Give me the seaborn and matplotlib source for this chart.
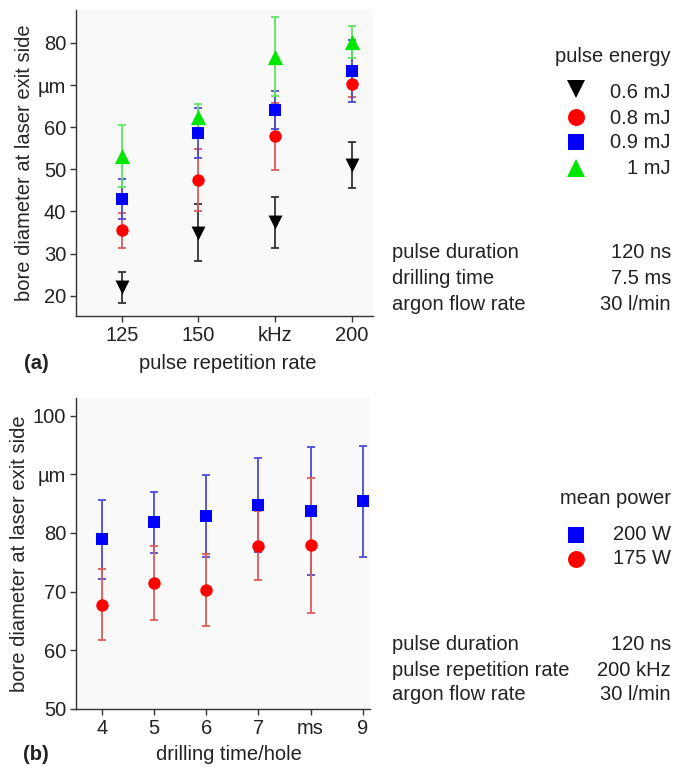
import matplotlib
matplotlib.use("Agg")
import numpy as np
import pandas as pd
import matplotlib.pyplot as plt
from matplotlib.lines import Line2D
import seaborn as sns

# (a) bore diameter vs pulse repetition rate, one list per pulse energy
rate_khz = [125, 150, 175, 200]
rate_ticklabels = ["125", "150", "kHz", "200"]
energy_labels = ["0.6 mJ", "0.8 mJ", "0.9 mJ", "1 mJ"]
d_06 = [22.0, 35.0, 37.4, 51.0]
e_06 = [3.7, 6.8, 6.1, 5.5]
d_08 = [35.5, 47.5, 57.8, 70.2]
e_08 = [4.1, 7.4, 7.9, 3.0]
d_09 = [42.9, 58.7, 64.1, 73.4]
e_09 = [4.8, 5.9, 4.5, 7.4]
d_10 = [53.1, 62.4, 76.7, 80.2]
e_10 = [7.3, 3.2, 9.4, 3.7]
a_yticks = [20, 30, 40, 50, 60, 70, 80]
a_yticklabels = ["20", "30", "40", "50", "60", "µm", "80"]

# (b) bore diameter vs drilling time per hole, one list per mean power
drill_ms = [4, 5, 6, 7, 8, 9]
drill_ticklabels = ["4", "5", "6", "7", "ms", "9"]
power_labels = ["200 W", "175 W"]
d_200 = [78.9, 81.8, 82.9, 84.7, 83.8, 85.4]
e_200 = [6.7, 5.2, 7.0, 8.0, 10.9, 9.5]
d_175 = [67.8, 71.4, 70.3, 77.8, 77.9]
e_175 = [6.1, 6.3, 6.1, 5.9, 11.5]
b_yticks = [50, 60, 70, 80, 90, 100]
b_yticklabels = ["50", "60", "70", "80", "µm", "100"]

params_a = [("pulse duration", "120 ns"), ("drilling time", "7.5 ms"),
            ("argon flow rate", "30 l/min")]
params_b = [("pulse duration", "120 ns"), ("pulse repetition rate", "200 kHz"),
            ("argon flow rate", "30 l/min")]

# marker / colour styles
BLACK, RED, BLUE, GREEN = "#000000", "#ff0000", "#0000ff", "#00e600"
ERR = {BLACK: "#333333", RED: "#e05a5a", BLUE: "#4a4ad8", GREEN: "#5ee65e"}
MARK = {BLACK: "v", RED: "o", BLUE: "s", GREEN: "^"}
SIZE = {"v": 100, "o": 80, "s": 64, "^": 120}
KEY_SIZE = {"v": 13.0, "o": 12.2, "s": 12.0, "^": 13.5}

W, H = 674, 770
sns.set_style("ticks")
plt.rcParams["font.family"] = ["Liberation Sans", "DejaVu Sans"]
plt.rcParams["text.color"] = "#222222"
FS = 14.5


def fx(px):
    return px / W


def fy(py):
    return 1 - py / H


def long_frame(xs, series):
    rows = []
    for label, ys, es, col in series:
        for x, y, e in zip(xs, ys, es):
            rows.append({"x": x, "y": y, "err": e, "series": label, "color": col})
    return pd.DataFrame(rows)


def draw_panel(ax, df, series):
    for label, ys, es, col in series:
        sub = df[df["series"] == label]
        ax.errorbar(sub["x"], sub["y"], yerr=sub["err"], fmt="none",
                    ecolor=ERR[col], elinewidth=1.3, capsize=2.8,
                    capthick=1.3, zorder=2)
    for label, ys, es, col in series:
        sub = df[df["series"] == label]
        sns.scatterplot(data=sub, x="x", y="y", color=col, marker=MARK[col],
                        s=SIZE[MARK[col]], linewidth=0, legend=False, ax=ax,
                        zorder=3)
    ax.set_facecolor("#f9f9f9")
    for side in ("top", "right"):
        ax.spines[side].set_visible(False)
    for side in ("left", "bottom"):
        ax.spines[side].set_color("#333333")
        ax.spines[side].set_linewidth(1.0)
    ax.tick_params(direction="out", length=4, width=1.0, color="#333333",
                   labelsize=FS, labelcolor="#222222", pad=3)
    ax.set_ylabel("bore diameter at laser exit side", fontsize=FS, labelpad=3)


def draw_key(title, series, y_title, mark_ys, text_ys):
    fig.text(fx(671), fy(y_title), title, fontsize=FS, ha="right", va="center")
    for (label, _, _, col), ym, yt in zip(series, mark_ys, text_ys):
        m = MARK[col]
        fig.add_artist(Line2D([fx(576)], [fy(ym)], transform=fig.transFigure,
                              marker=m, color=col, linestyle="none",
                              markersize=KEY_SIZE[m], markeredgewidth=0))
        fig.text(fx(671), fy(yt), label, fontsize=FS, ha="right", va="center")


def draw_params(params, ys):
    for (name, value), y in zip(params, ys):
        fig.text(fx(392), fy(y), name, fontsize=FS, ha="left", va="center")
        fig.text(fx(671), fy(y), value, fontsize=FS, ha="right", va="center")


fig = plt.figure(figsize=(W / 100, H / 100), dpi=100)
fig.patch.set_facecolor("white")

# ---- panel (a)
series_a = [(energy_labels[0], d_06, e_06, BLACK),
            (energy_labels[1], d_08, e_08, RED),
            (energy_labels[2], d_09, e_09, BLUE),
            (energy_labels[3], d_10, e_10, GREEN)]
ax_a = fig.add_axes([fx(76), fy(316), fx(373) - fx(76), fy(10) - fy(316)])
draw_panel(ax_a, long_frame(rate_khz, series_a), series_a)
ax_a.set_xlim(110, 207)
ax_a.set_ylim(15.2, 87.8)
ax_a.set_xticks(rate_khz)
ax_a.set_xticklabels(rate_ticklabels)
ax_a.set_yticks(a_yticks)
ax_a.set_yticklabels(a_yticklabels)
ax_a.set_xlabel("")
fig.text(fx(228), fy(364), "pulse repetition rate", fontsize=FS,
         ha="center", va="center")
fig.text(fx(24), fy(364), "(a)", fontsize=FS, fontweight="bold",
         ha="left", va="center")
draw_key("pulse energy", series_a, 57, [89, 117, 142, 168], [92, 118, 143, 168])
draw_params(params_a, [253, 278, 304])

# ---- panel (b)
series_b = [(power_labels[0], d_200, e_200, BLUE),
            (power_labels[1], d_175, e_175, RED)]
df_b = pd.concat([long_frame(drill_ms, series_b[:1]),
                  long_frame(drill_ms[:len(d_175)], series_b[1:])])
ax_b = fig.add_axes([fx(76), fy(709), fx(370) - fx(76), fy(398) - fy(709)])
draw_panel(ax_b, df_b, series_b)
ax_b.set_xlim(3.5, 9.14)
ax_b.set_ylim(50, 103)
ax_b.set_xticks(drill_ms)
ax_b.set_xticklabels(drill_ticklabels)
ax_b.set_yticks(b_yticks)
ax_b.set_yticklabels(b_yticklabels)
ax_b.set_xlabel("")
fig.text(fx(229), fy(755), "drilling time/hole", fontsize=FS,
         ha="center", va="center")
fig.text(fx(23), fy(755), "(b)", fontsize=FS, fontweight="bold",
         ha="left", va="center")
draw_key("mean power", series_b, 498, [535, 559], [535, 559])
draw_params(params_b, [645, 670, 695])

fig.savefig("out.png", dpi=100, facecolor="white")
